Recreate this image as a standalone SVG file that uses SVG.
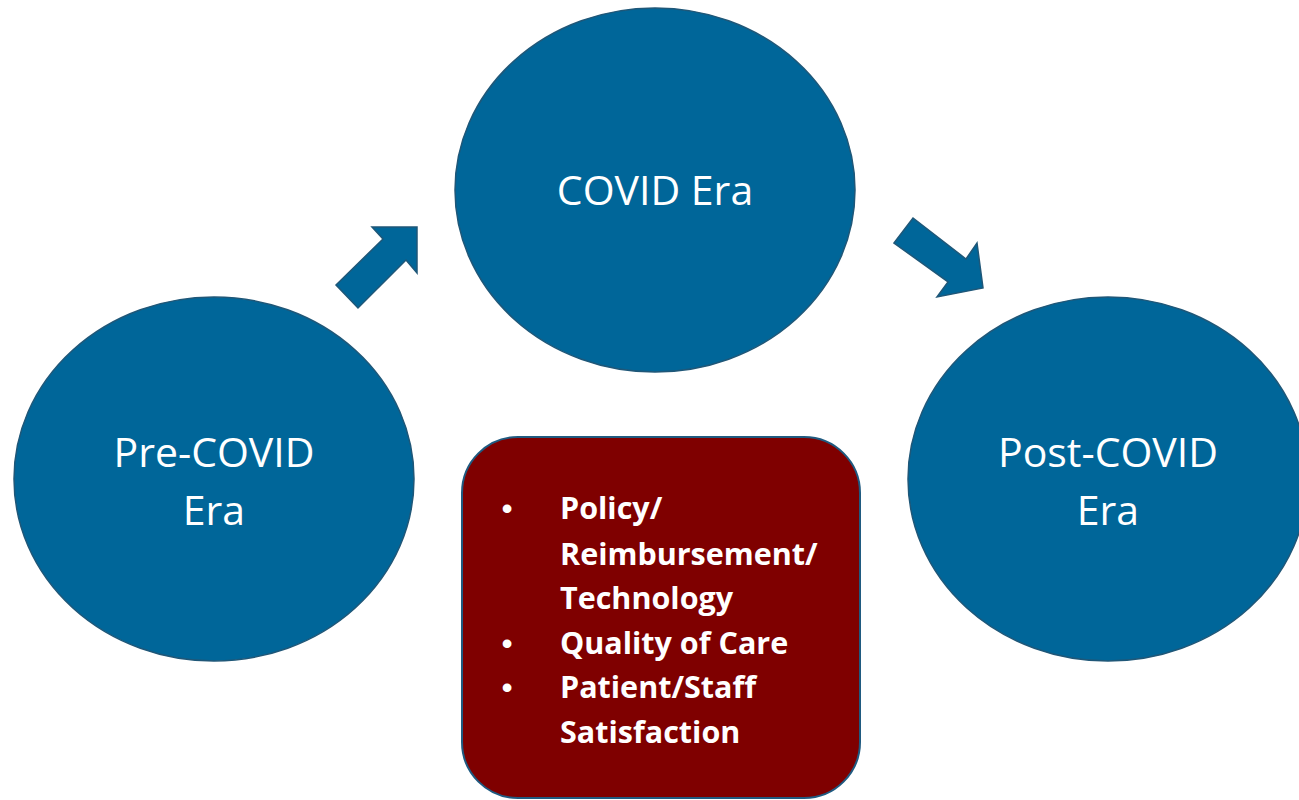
<svg xmlns="http://www.w3.org/2000/svg" width="1299" height="800" viewBox="0 0 1299 800">
<style>
.era{fill:#006699;stroke:#1F5778;stroke-width:1.5}
.lbl{font-family:"Open Sans","Noto Sans",sans-serif;font-size:41px;fill:#ffffff;text-anchor:middle}
.arrow{fill:#006699;stroke:#1F5778;stroke-width:1.5;stroke-linejoin:miter}
.box{fill:#7F0000;stroke:#1F5A80;stroke-width:2}
.item{font-family:"Open Sans","Noto Sans",sans-serif;font-size:30.5px;font-weight:bold;fill:#ffffff}
.bul{font-family:"Liberation Sans",Arial,sans-serif;font-size:32px;fill:#ffffff;text-anchor:middle}
</style>
<rect width="1299" height="800" fill="#ffffff"/>
<g id="connectors">
<polygon class="arrow" points="336,285 383,239 372,227 417,227 417,273 406,260 358,308"/>
<polygon class="arrow" points="894,243 913,218 966,259 977,243 983,288 937,297 948,282"/>
</g>
<g id="pre-covid">
<ellipse class="era" cx="214" cy="479" rx="200" ry="182"/>
<text class="lbl" x="214" y="467">Pre-COVID</text>
<text class="lbl" x="214" y="525">Era</text>
</g>
<g id="covid">
<ellipse class="era" cx="655" cy="190" rx="200" ry="182"/>
<text class="lbl" x="655" y="205">COVID Era</text>
</g>
<g id="post-covid">
<ellipse class="era" cx="1108" cy="479" rx="200" ry="182"/>
<text class="lbl" x="1108" y="467">Post-COVID</text>
<text class="lbl" x="1108" y="525">Era</text>
</g>
<g id="factors">
<rect class="box" x="462" y="437" width="398" height="361" rx="56" ry="56"/>
<text class="bul" x="507" y="519">•</text>
<text class="bul" x="507" y="654">•</text>
<text class="bul" x="507" y="698">•</text>
<text class="item" x="560" y="519">Policy/</text>
<text class="item" x="560" y="565">Reimbursement/</text>
<text class="item" x="560" y="609">Technology</text>
<text class="item" x="560" y="654">Quality of Care</text>
<text class="item" x="560" y="698">Patient/Staff</text>
<text class="item" x="560" y="743">Satisfaction</text>
</g>
</svg>
